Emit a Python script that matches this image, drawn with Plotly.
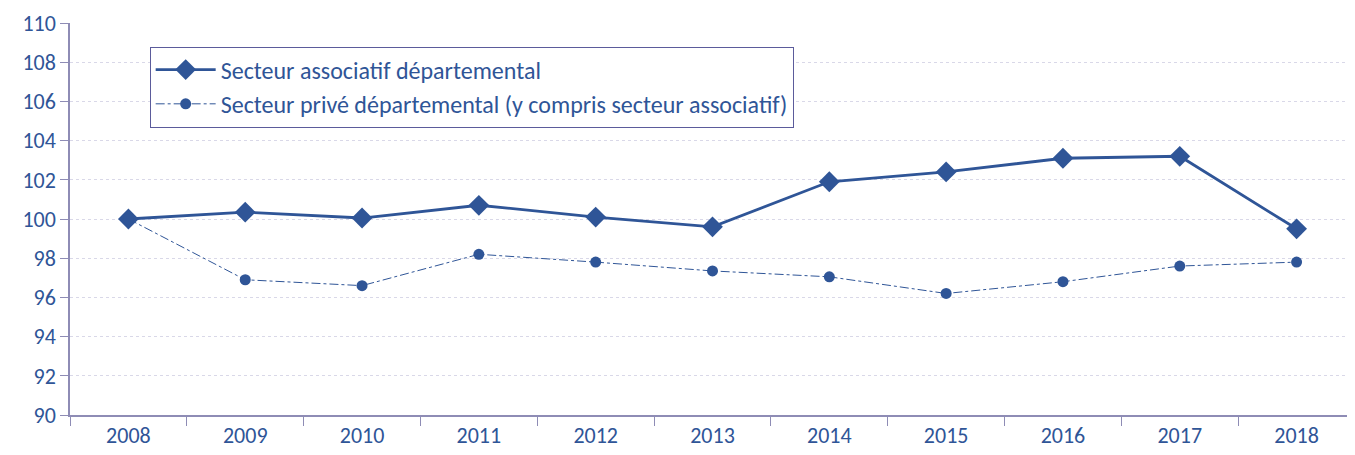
import plotly.graph_objects as go

years = ["2008", "2009", "2010", "2011", "2012", "2013", "2014", "2015", "2016", "2017", "2018"]
assoc = [100.0, 100.35, 100.05, 100.7, 100.1, 99.6, 101.9, 102.4, 103.1, 103.2, 99.5]
prive = [100.0, 96.9, 96.6, 98.2, 97.8, 97.35, 97.05, 96.2, 96.8, 97.6, 97.8]
name_assoc = "Secteur associatif départemental"
name_prive = "Secteur privé départemental (y compris secteur associatif)"
y_ticks = list(range(90, 111, 2))

blue = "#2F5597"
axis_col = "#8E8CB5"
font_fam = "Carlito, Lato, 'Open Sans', sans-serif"

fig = go.Figure()
fig.add_trace(go.Scatter(
    x=years, y=assoc, name=name_assoc, mode="lines+markers",
    line=dict(color=blue, width=2.8),
    marker=dict(symbol="diamond", size=16, color=blue),
))
fig.add_trace(go.Scatter(
    x=years, y=prive, name=name_prive, mode="lines+markers",
    line=dict(color=blue, width=1, dash="dashdot"),
    marker=dict(symbol="circle", size=11, color=blue),
))

fig.update_layout(
    width=1347, height=447,
    margin=dict(l=62, r=0, t=15, b=40, autoexpand=False),
    paper_bgcolor="white", plot_bgcolor="white",
    font=dict(family=font_fam, size=22, color=blue),
    showlegend=True,
    legend=dict(
        x=0.062, y=0.94, xanchor="left", yanchor="top",
        bordercolor="#5B5B9B", borderwidth=1, bgcolor="white",
        font=dict(size=24, color=blue),
        itemwidth=60,
    ),
    xaxis=dict(
        type="category", showgrid=False, range=[-0.5, 10.5],
        showline=True, linecolor=axis_col, linewidth=1.5,
        ticks="outside", tickson="boundaries", ticklen=9, tickcolor=axis_col,
        tickfont=dict(size=22, color=blue),
    ),
    yaxis=dict(
        range=[90, 110], tickvals=y_ticks,
        showgrid=True, gridcolor="#D9D8E8", griddash="dot", gridwidth=1,
        showline=True, linecolor=axis_col, linewidth=1.5,
        ticks="outside", ticklen=8, tickcolor=axis_col,
        tickfont=dict(size=22, color=blue),
        zeroline=False,
    ),
)

fig.write_html("out.html")
